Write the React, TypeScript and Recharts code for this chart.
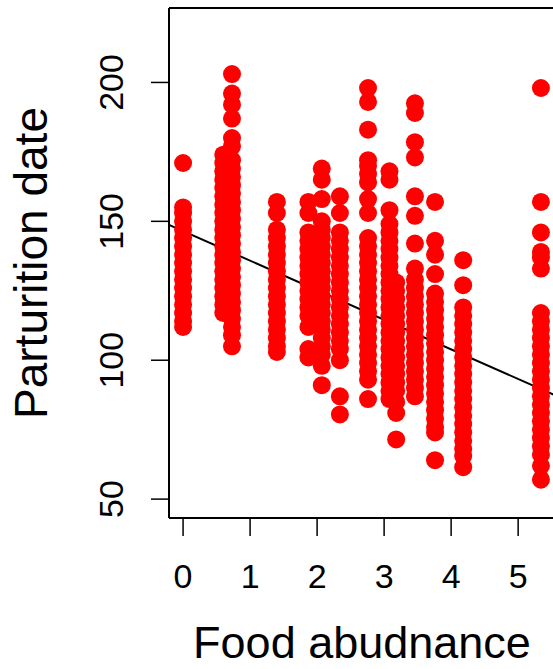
import React from 'react';
import {
  ScatterChart,
  Scatter,
  XAxis,
  YAxis,
  ReferenceLine,
  Label,
} from 'recharts';

// food abundance levels (x) and the parturition dates observed at each
const foodLevels = [0, 0.6, 0.7, 0.73, 1.4, 1.87, 2.07, 2.34, 2.76, 3.08, 3.18, 3.46, 3.76, 4.18, 5.34];

const datesByLevel: number[][] = [
  [171, 155, 153, 150, 147, 144, 141, 138, 135, 132, 129, 126, 123, 120, 117, 114, 112],
  [174, 171, 168, 165, 162, 159, 156, 153, 150, 147, 144, 141, 138, 135, 132, 129, 126, 123, 120, 117],
  [170, 160, 150, 140, 130, 120],
  [203, 196, 192, 187, 180, 177, 172, 169, 166, 163, 160, 157, 154, 151, 148, 145, 142, 139, 136, 133, 130, 127, 124, 121, 118, 115, 112, 109, 105],
  [157, 153, 147, 144, 141, 138, 135, 132, 129, 126, 123, 120, 117, 114, 111, 108, 105, 103],
  [157, 153, 146, 143, 140, 137, 134, 131, 128, 125, 122, 119, 116, 112, 104, 101],
  [169, 165, 158, 150, 147, 144, 141, 138, 135, 132, 129, 126, 123, 120, 117, 114, 111, 108, 105, 102, 98, 91],
  [159, 153, 146, 143, 140, 137, 134, 131, 128, 125, 122, 119, 116, 113, 110, 107, 104, 100, 87, 80.5],
  [198, 193, 183, 172, 170, 167, 164, 158, 153, 144, 141, 138, 135, 132, 129, 126, 123, 120, 117, 114, 111, 108, 105, 102, 99, 96, 93, 86],
  [168, 165, 154, 149, 146, 143, 140, 137, 134, 131, 128, 125, 122, 119, 116, 113, 110, 107, 104, 101, 98, 95, 92, 89, 86],
  [128, 125, 122, 119, 116, 113, 110, 107, 104, 101, 98, 95, 92, 89, 85, 81, 71.5],
  [192.5, 189, 178.5, 173, 159, 152, 142, 133, 129, 126, 123, 120, 117, 114, 111, 108, 105, 102, 99, 96, 93, 90, 87],
  [157, 143, 138, 131, 124, 121, 118, 115, 112, 109, 106, 103, 100, 97, 94, 91, 88, 85, 82, 79, 76, 74, 64],
  [136, 127, 119, 116, 113, 110, 107, 104, 101, 98, 95, 92, 89, 86, 83, 80, 77, 74, 71, 68, 65.5, 61.5],
  [198, 157, 146, 139, 137, 133, 117, 114, 111, 108, 105, 102, 99, 96, 93, 90, 87, 84, 81, 78, 75, 72, 69, 66, 62, 57],
];

const xTicks = [0, 1, 2, 3, 4, 5];
const yTicks = [50, 100, 150, 200];

// fitted regression: date = intercept + slope * food
const intercept = 146.5;
const slope = -10.65;

const X_MIN = -0.21;
const X_MAX = 5.55;
const Y_MIN = 43.2;
const Y_MAX = 226.8;

const FONT = '"Liberation Sans", Arial, Helvetica, sans-serif';

const points = foodLevels.flatMap((food, i) =>
  datesByLevel[i].map((date) => ({ food, date }))
);

const Dot = (props: any) => (
  <circle cx={props.cx} cy={props.cy} r={9} fill="#ff0000" />
);

const XTick = ({ x, payload }: any) => (
  <text x={x} y={588} textAnchor="middle" fontSize={34} fontFamily={FONT} fill="#000">
    {payload.value}
  </text>
);

const YTick = ({ y, payload }: any) => (
  <text
    x={123}
    y={y}
    transform={`rotate(-90, 123, ${y})`}
    textAnchor="middle"
    fontSize={34}
    fontFamily={FONT}
    fill="#000"
  >
    {payload.value}
  </text>
);

export default function App() {
  return (
    <div style={{ position: 'absolute', left: 0, top: 0, background: '#fff' }}>
      <ScatterChart width={553} height={669} margin={{ top: 8, right: -2, bottom: 0, left: 0 }}>
        <XAxis
          type="number"
          dataKey="food"
          domain={[X_MIN, X_MAX]}
          ticks={xTicks}
          allowDataOverflow
          height={151}
          tickSize={18}
          axisLine={{ stroke: '#000', strokeWidth: 2 }}
          tickLine={{ stroke: '#000', strokeWidth: 1.5 }}
          tick={<XTick />}
        >
          <Label
            content={() => (
              <text x={362} y={658} textAnchor="middle" fontSize={45} fontFamily={FONT} fill="#000">
                Food abudnance
              </text>
            )}
          />
        </XAxis>
        <YAxis
          type="number"
          dataKey="date"
          domain={[Y_MIN, Y_MAX]}
          ticks={yTicks}
          allowDataOverflow
          width={169}
          tickSize={18}
          axisLine={{ stroke: '#000', strokeWidth: 2 }}
          tickLine={{ stroke: '#000', strokeWidth: 1.5 }}
          tick={<YTick />}
        >
          <Label
            content={() => (
              <text
                x={47}
                y={263}
                transform="rotate(-90, 47, 263)"
                textAnchor="middle"
                fontSize={46}
                fontFamily={FONT}
                fill="#000"
              >
                Parturition date
              </text>
            )}
          />
        </YAxis>
        <ReferenceLine y={Y_MAX} stroke="#000" strokeWidth={2} />
        <Scatter data={points} shape={<Dot />} isAnimationActive={false} />
        <ReferenceLine
          segment={[
            { x: X_MIN, y: intercept + slope * X_MIN },
            { x: X_MAX, y: intercept + slope * X_MAX },
          ]}
          stroke="#000"
          strokeWidth={2}
        />
      </ScatterChart>
    </div>
  );
}
